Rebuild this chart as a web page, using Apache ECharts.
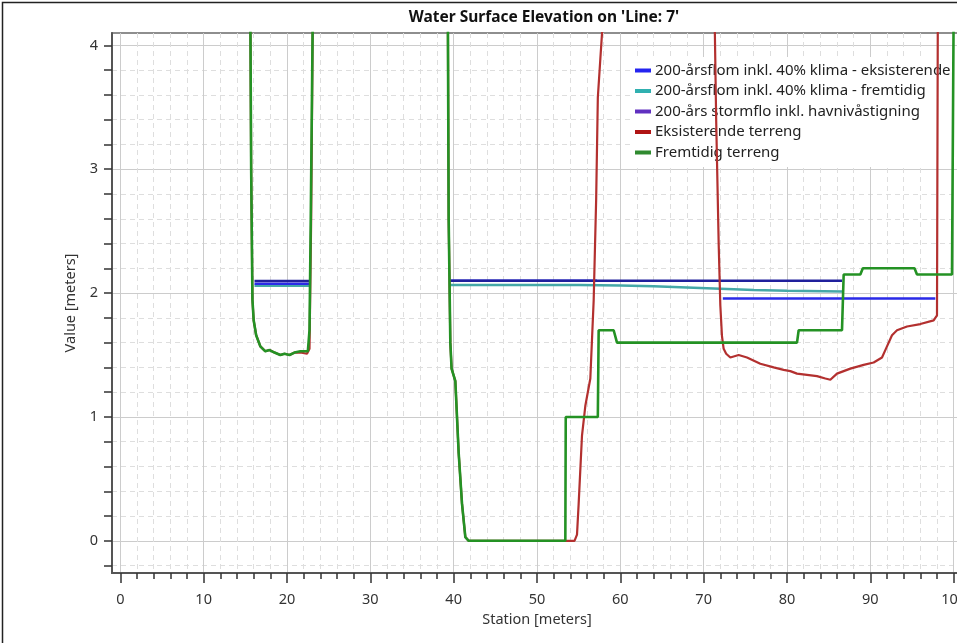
<!DOCTYPE html>
<html>
<head>
<meta charset="utf-8">
<script src="https://cdn.jsdelivr.net/npm/echarts@6/dist/echarts.min.js"></script>
<style>
  html, body { margin: 0; padding: 0; background: #fff; }
  #wse-chart { width: 957px; height: 643px; }
</style>
</head>
<body>
<div id="wse-chart"></div>
<script>
// station ticks (m) and elevation ticks (m)
const stationMajor = [0, 10, 20, 30, 40, 50, 60, 70, 80, 90, 100];
const stationMinor = [2, 4, 6, 8, 12, 14, 16, 18, 22, 24, 26, 28, 32, 34, 36, 38, 42, 44, 46, 48,
    52, 54, 56, 58, 62, 64, 66, 68, 72, 74, 76, 78, 82, 84, 86, 88, 92, 94, 96, 98];
const elevMajor = [0, 1, 2, 3, 4];
const elevMinor = [-0.2, 0.2, 0.4, 0.6, 0.8, 1.2, 1.4, 1.6, 1.8, 2.2, 2.4, 2.6, 2.8, 3.2, 3.4, 3.6, 3.8];

const seriesNames = [
    '200-årsflom inkl. 40% klima - eksisterende',
    '200-årsflom inkl. 40% klima - fremtidig',
    '200-års stormflo inkl. havnivåstigning',
    'Eksisterende terreng',
    'Fremtidig terreng'
];

// [station, elevation], '-' breaks the line
const flomEksisterende = [
    [16.1, 2.075], [22.7, 2.075], [22.8, '-'],
    [39.6, 2.1], [57.2, 2.1], [57.3, '-'],
    [72.3, 1.957], [97.8, 1.957]
];
const flomFremtidig = [
    [16.1, 2.06], [22.7, 2.06], [22.8, '-'],
    [39.6, 2.065], [55, 2.065], [60, 2.062], [64, 2.055], [68, 2.045], [72, 2.035],
    [76, 2.025], [80, 2.018], [86.6, 2.013]
];
const stormflo = [
    [16.1, 2.097], [22.7, 2.097], [22.8, '-'],
    [39.6, 2.1], [86.6, 2.1]
];
const terrengEksisterende = [
    [15.6, 4.3], [15.7, 3.0], [15.85, 1.95], [16.0, 1.78], [16.3, 1.66], [16.8, 1.57], [17.4, 1.53],
    [17.9, 1.54], [18.5, 1.52], [19.2, 1.5], [19.7, 1.51], [20.3, 1.5], [20.9, 1.52], [21.6, 1.52],
    [22.4, 1.51], [22.7, 1.55], [22.9, 2.6], [23.1, 4.3], [23.2, '-'],
    [39.3, 4.3], [39.4, 2.6], [39.6, 1.6], [39.75, 1.39], [40.2, 1.29], [40.6, 0.71], [41.0, 0.3],
    [41.4, 0.03], [41.8, 0], [54.5, 0], [54.8, 0.05], [55.0, 0.3], [55.4, 0.85], [55.8, 1.09],
    [56.4, 1.31], [56.8, 1.94], [57.1, 2.76], [57.3, 3.58], [57.6, 3.89], [58.0, 4.3], [58.1, '-'],
    [71.3, 4.3], [71.5, 3.4], [71.8, 2.4], [72.0, 1.9], [72.2, 1.65], [72.4, 1.55], [72.7, 1.51],
    [73.2, 1.48], [74.2, 1.5], [75.2, 1.48], [76.8, 1.43], [78.4, 1.4], [79.6, 1.38], [80.4, 1.37],
    [81.2, 1.35], [82.4, 1.34], [83.6, 1.33], [84.6, 1.31], [85.2, 1.3], [86.0, 1.35], [87.6, 1.39],
    [89.2, 1.42], [90.4, 1.44], [91.4, 1.48], [92.0, 1.57], [92.6, 1.66], [93.2, 1.7], [94.4, 1.73],
    [96.0, 1.75], [97.6, 1.78], [98.0, 1.82], [98.1, 4.3]
];
const terrengFremtidig = [
    [15.6, 4.3], [15.7, 3.0], [15.85, 1.95], [16.0, 1.78], [16.3, 1.66], [16.8, 1.57], [17.4, 1.53],
    [17.9, 1.54], [18.5, 1.52], [19.2, 1.5], [19.7, 1.51], [20.3, 1.5], [20.9, 1.52], [21.6, 1.53],
    [22.5, 1.53], [22.7, 1.7], [22.85, 2.6], [23.1, 4.3], [23.2, '-'],
    [39.3, 4.3], [39.4, 2.6], [39.6, 1.6], [39.75, 1.39], [40.2, 1.29], [40.6, 0.71], [41.0, 0.3],
    [41.4, 0.03], [41.8, 0], [53.4, 0], [53.45, 1.0], [57.3, 1.0], [57.4, 1.7], [59.2, 1.7],
    [59.6, 1.6], [81.2, 1.6], [81.4, 1.7], [86.6, 1.7], [86.8, 2.15], [88.8, 2.15], [89.1, 2.2],
    [95.3, 2.2], [95.6, 2.15], [99.8, 2.15], [100.0, 4.3]
];

const seriesData = [flomEksisterende, flomFremtidig, stormflo, terrengEksisterende, terrengFremtidig];
const legendColors = ['#2424f0', '#30b0b0', '#6030c0', '#b01414', '#2f8a2f'];
const lineColors = ['#2a2ae8', '#45a8a8', '#20209c', '#b3302f', '#249224'];
const lineWidths = [2.5, 2.5, 2.5, 2.2, 2.6];

const FONT = 'Noto Sans';

let wse_chart = echarts.init(document.getElementById('wse-chart'));

let echarts_options = {
    animation: false,
    backgroundColor: '#fff',
    textStyle: { fontFamily: FONT },
    title: {
        text: "Water Surface Elevation on 'Line: 7'",
        left: 539,
        textAlign: 'center',
        top: 5,
        textStyle: { fontFamily: FONT, fontSize: 15.5, fontWeight: 'bold', color: '#111' }
    },
    legend: {
        orient: 'vertical',
        left: 630,
        top: 57,
        padding: [6, 40, 7, 5],
        backgroundColor: '#fff',
        icon: 'rect',
        itemWidth: 16,
        itemHeight: 4,
        itemGap: 5.5,
        textStyle: { fontFamily: FONT, fontSize: 15, lineHeight: 15, color: '#222', padding: [0, 0, 0, -1] },
        data: seriesNames.map(function (name, i) {
            return { name: name, itemStyle: { color: legendColors[i] } };
        })
    },
    graphic: [{
        type: 'rect',
        shape: { x: 2.5, y: 2.5, width: 1000, height: 1000 },
        style: { fill: 'none', stroke: '#222', lineWidth: 1.5 },
        silent: true
    }],
    grid: {
        left: 112,
        top: 33,
        width: 850,
        bottom: 70,
        outerBoundsMode: 'none',
        containLabel: false,
        show: true,
        borderColor: '#6a6a6a',
        borderWidth: 1.5
    },
    xAxis: [
        {
            type: 'value',
            position: 'bottom',
            min: -1,
            max: 101,
            name: 'Station [meters]',
            nameLocation: 'middle',
            nameGap: 39,
            nameTextStyle: { fontFamily: FONT, fontSize: 14.5, color: '#333' },
            axisLine: { show: true, onZero: false, lineStyle: { color: '#555', width: 2 } },
            axisTick: { show: true, customValues: stationMajor, length: 10, lineStyle: { color: '#333', width: 1.5 } },
            axisLabel: { customValues: stationMajor, margin: 19, hideOverlap: false, fontFamily: FONT, fontSize: 14.5, color: '#333' },
            splitLine: { show: true, lineStyle: { color: '#cccccc', width: 1 } }
        },
        {
            type: 'value',
            position: 'bottom',
            min: -1,
            max: 101,
            axisLine: { show: false, onZero: false },
            axisTick: { show: true, customValues: stationMinor, length: 6, lineStyle: { color: '#333', width: 1.5 } },
            axisLabel: { show: false },
            splitLine: { show: true, lineStyle: { color: '#dedede', width: 1, type: [5, 4] } }
        }
    ],
    yAxis: [
        {
            type: 'value',
            position: 'left',
            min: -0.26,
            max: 4.1,
            name: 'Value [meters]',
            nameLocation: 'middle',
            nameGap: 26,
            nameTextStyle: { fontFamily: FONT, fontSize: 14.5, color: '#333' },
            axisLine: { show: true, onZero: false, lineStyle: { color: '#555', width: 2 } },
            axisTick: { show: true, customValues: elevMajor, length: 8, lineStyle: { color: '#333', width: 1.5 } },
            axisLabel: { customValues: elevMajor, margin: 14, fontFamily: FONT, fontSize: 14.5, color: '#333' },
            splitLine: { show: true, lineStyle: { color: '#cccccc', width: 1 } }
        },
        {
            type: 'value',
            position: 'left',
            min: -0.26,
            max: 4.1,
            axisLine: { show: false, onZero: false },
            axisTick: { show: true, customValues: elevMinor, length: 8, lineStyle: { color: '#333', width: 1.5 } },
            axisLabel: { show: false },
            splitLine: { show: true, lineStyle: { color: '#dedede', width: 1, type: [5, 4] } }
        }
    ],
    series: seriesNames.map(function (name, i) {
        return {
            name: name,
            type: 'line',
            xAxisIndex: 0,
            yAxisIndex: 0,
            data: seriesData[i],
            showSymbol: false,
            symbol: 'none',
            z: 3 + i,
            connectNulls: false,
            itemStyle: { color: legendColors[i] },
            lineStyle: { color: lineColors[i], width: lineWidths[i] }
        };
    })
};
// cyan below the blue
echarts_options.series[1].z = 2;

wse_chart.setOption(echarts_options);
</script>
</body>
</html>
